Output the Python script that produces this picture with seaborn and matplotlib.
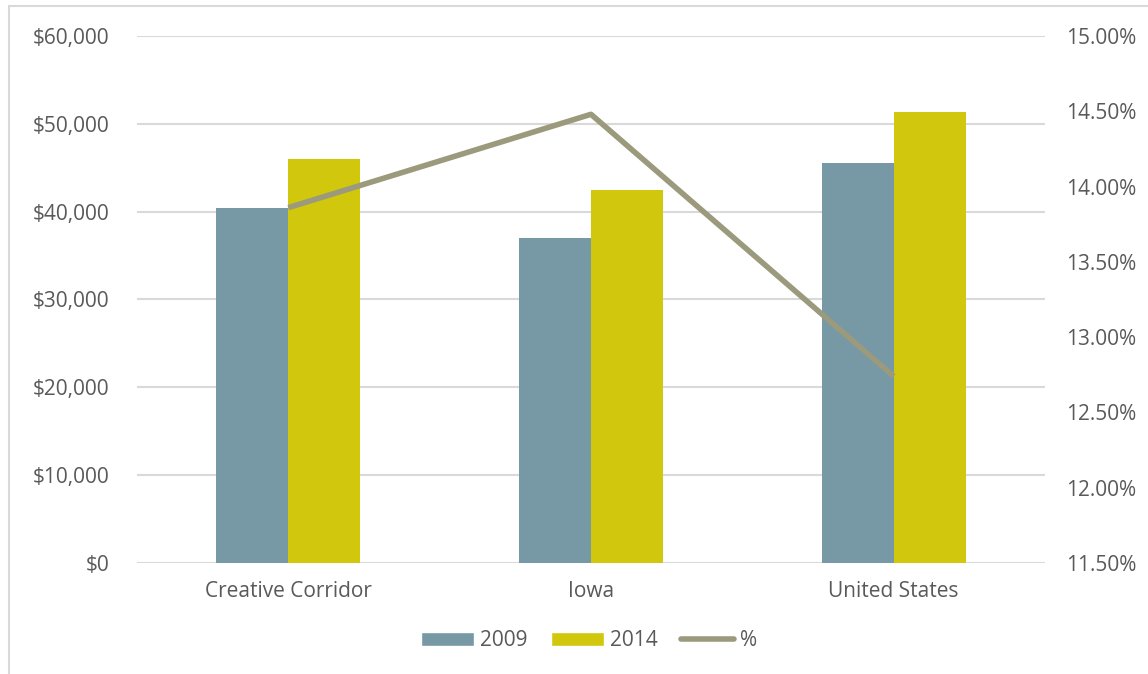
import matplotlib
matplotlib.use("Agg")
import matplotlib.pyplot as plt
import matplotlib.ticker as mticker
from matplotlib.lines import Line2D
from matplotlib.patches import Patch
import seaborn as sns
import pandas as pd

categories = ["Creative Corridor", "Iowa", "United States"]
years = ["2009", "2014"]
values_2009 = [40400, 37050, 45500]
values_2014 = [46000, 42420, 51300]
pct_change = [13.86, 14.48, 12.74]

color_2009 = "#7699A5"
color_2014 = "#D1C70D"
color_line = "#9B9A7C"
text_color = "#595959"
grid_color = "#D9D9D9"

sns.set_theme(style="white")
plt.rcParams["font.family"] = ["Open Sans", "DejaVu Sans"]
fs = 15

df = pd.DataFrame({
    "Region": categories * 2,
    "Year": [years[0]] * 3 + [years[1]] * 3,
    "Value": values_2009 + values_2014,
})

fig = plt.figure(figsize=(11.48, 6.74), dpi=100)
ax = fig.add_axes([0.1193, 0.1647, 0.7910, 0.7819])

sns.barplot(data=df, x="Region", y="Value", hue="Year", ax=ax,
            palette=[color_2009, color_2014], width=0.476, gap=0,
            saturation=1, legend=False, edgecolor="none", zorder=2)

ax.set_ylim(0, 60000)
ax.set_xlim(-0.5, 2.5)
ax.yaxis.set_major_locator(mticker.MultipleLocator(10000))
ax.yaxis.set_major_formatter(mticker.FuncFormatter(lambda v, p: f"${v:,.0f}"))
ax.grid(axis="y", color=grid_color, linewidth=1.5, zorder=0)
ax.set_axisbelow(True)
for s in ax.spines.values():
    s.set_visible(False)
ax.set_xlabel("")
ax.set_ylabel("")
ax.tick_params(axis="y", length=0, pad=19.5, labelsize=fs, labelcolor=text_color)
ax.tick_params(axis="x", length=0, pad=13, labelsize=fs, labelcolor=text_color)

ax2 = ax.twinx()
sns.pointplot(x=categories, y=pct_change, ax=ax2, color=color_line,
              markers="", linewidth=4, errorbar=None, zorder=3)
ax2.set_ylim(11.5, 15.0)
ax2.set_xlim(-0.5, 2.5)
ax2.yaxis.set_major_locator(mticker.MultipleLocator(0.5))
ax2.yaxis.set_major_formatter(mticker.FuncFormatter(lambda v, p: f"{v:.2f}%"))
for s in ax2.spines.values():
    s.set_visible(False)
ax2.set_ylabel("")
ax2.tick_params(axis="y", length=0, pad=15, labelsize=fs, labelcolor=text_color)
for ln in ax2.lines:
    ln.set_solid_capstyle("butt")

handles = [Patch(facecolor=color_2009, label=years[0]),
           Patch(facecolor=color_2014, label=years[1]),
           Line2D([0], [0], color=color_line, linewidth=4,
                  solid_capstyle="round", label="%")]
fig.legend(handles=handles, loc="center", bbox_to_anchor=(0.513, 0.049),
           ncol=3, frameon=False, fontsize=fs, labelcolor=text_color,
           handlelength=2.55, handleheight=0.65, handletextpad=0.3,
           columnspacing=1.1)

fig.add_artist(Line2D([0.0075, 0.0075], [0, 0.991], color="#D9D9D9",
                      linewidth=1.5, transform=fig.transFigure))
fig.add_artist(Line2D([0.0075, 1], [0.991, 0.991], color="#D9D9D9",
                      linewidth=1.5, transform=fig.transFigure))

fig.savefig("out.png", dpi=100)
